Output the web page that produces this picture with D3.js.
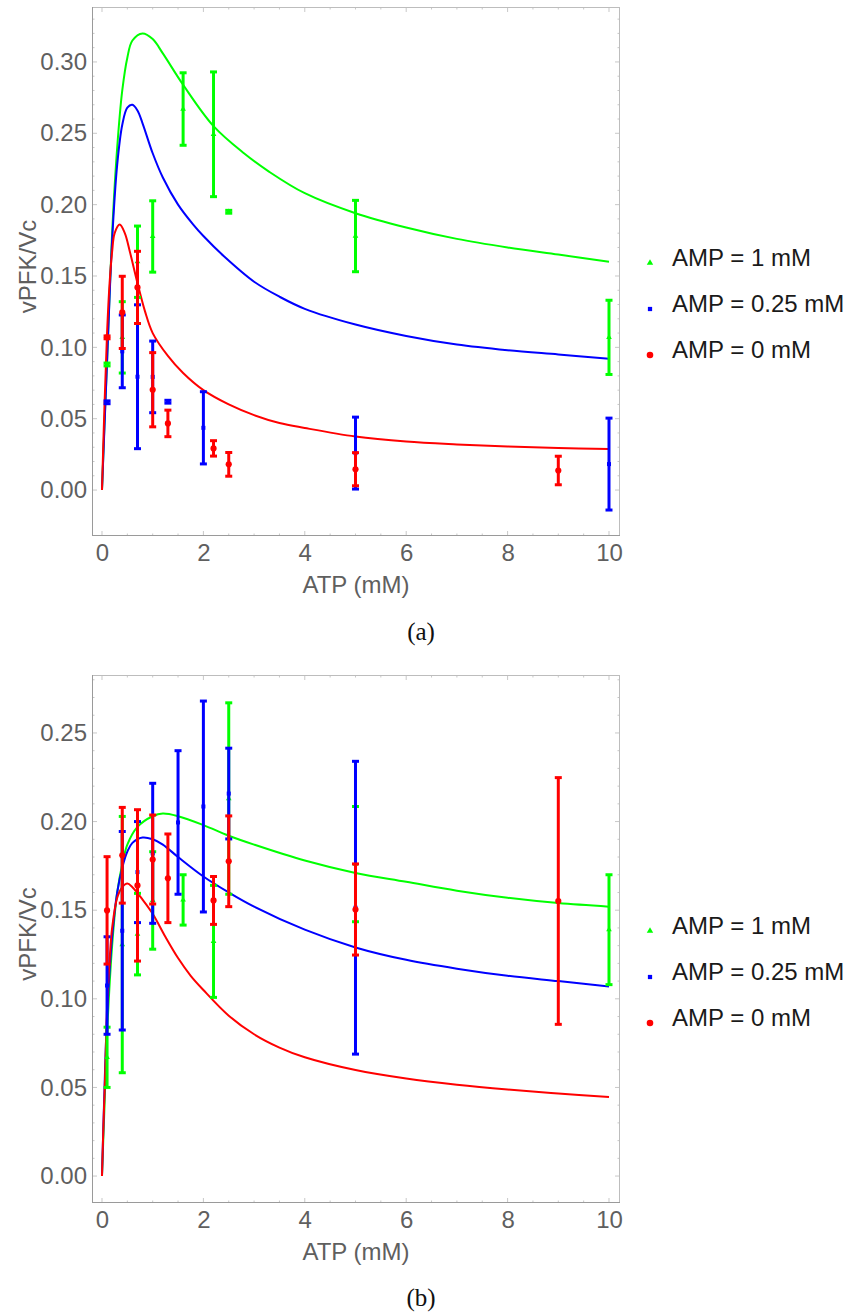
<!DOCTYPE html>
<html>
<head>
<meta charset="utf-8">
<script src="https://cdn.jsdelivr.net/npm/d3@7"></script>
<style>
  html, body { margin: 0; padding: 0; background: #fff; }
  svg { display: block; }
</style>
</head>
<body>
<svg id="fig" width="851" height="1312"></svg>
<script>
// ---- Tick labels ----
const xTickValues = [0, 2, 4, 6, 8, 10];
const yTicksA = [0.00, 0.05, 0.10, 0.15, 0.20, 0.25, 0.30];
const yTicksB = [0.00, 0.05, 0.10, 0.15, 0.20, 0.25];

// ---- Series names ----
const seriesNames = ["AMP = 1 mM", "AMP = 0.25 mM", "AMP = 0 mM"];
const seriesColors = ["#00ff00", "#0000ff", "#ff0000"];

// ---- Panel (a): measurements (ATP mM, mean, error) ----
const aGreenAtp  = [0.1, 0.4, 0.7, 1.0, 1.6, 2.2, 2.5, 5, 10];
const aGreenMean = [0.088, 0.107, 0.160, 0.1777, 0.267, 0.2493, 0.195, 0.178, 0.107];
const aGreenErr  = [0.001, 0.025, 0.025, 0.025, 0.0254, 0.0437, 0.001, 0.025, 0.026];

const aBlueAtp  = [0.1, 0.4, 0.7, 1.0, 1.3, 2.0, 5, 10];
const aBlueMean = [0.0615, 0.0972, 0.0794, 0.0793, 0.0619, 0.0436, 0.0259, 0.0182];
const aBlueErr  = [0.001, 0.0255, 0.0504, 0.0251, 0.001, 0.0253, 0.0252, 0.0322];

const aRedAtp  = [0.1, 0.4, 0.7, 1.0, 1.3, 2.2, 2.5, 5, 9];
const aRedMean = [0.107, 0.1245, 0.142, 0.0703, 0.0467, 0.0292, 0.018, 0.0146, 0.0137];
const aRedErr  = [0.001, 0.0253, 0.0253, 0.026, 0.0093, 0.0054, 0.0083, 0.0116, 0.010];

// ---- Panel (a): fitted rate curves ----
const aGreenCurveX = [0, 0.05, 0.1, 0.2, 0.3, 0.4, 0.5, 0.6, 0.8, 1.0, 1.2, 1.6, 2.2, 2.8, 3.3, 4, 5, 6, 7, 8, 9, 10];
const aGreenCurveY = [0, 0.047, 0.09, 0.18, 0.24, 0.28, 0.303, 0.315, 0.32, 0.316, 0.306, 0.284, 0.255, 0.236, 0.223, 0.208, 0.194, 0.184, 0.176, 0.17, 0.165, 0.16];

const aBlueCurveX = [0, 0.05, 0.1, 0.2, 0.3, 0.4, 0.5, 0.6, 0.7, 0.8, 1.0, 1.2, 1.5, 1.8, 2.0, 2.4, 3.0, 3.5, 4, 5, 6, 7, 8, 9, 10];
const aBlueCurveY = [0, 0.045, 0.09, 0.175, 0.228, 0.256, 0.268, 0.27, 0.266, 0.257, 0.236, 0.219, 0.2, 0.186, 0.178, 0.164, 0.146, 0.1355, 0.127, 0.116, 0.108, 0.102, 0.098, 0.095, 0.092];

const aRedCurveX = [0, 0.05, 0.1, 0.15, 0.2, 0.25, 0.35, 0.45, 0.55, 0.7, 0.85, 1.0, 1.3, 1.6, 2.0, 2.5, 3.0, 3.5, 4, 5, 6, 7, 8, 9, 10];
const aRedCurveY = [0, 0.06, 0.11, 0.145, 0.167, 0.18, 0.186, 0.18, 0.167, 0.145, 0.125, 0.11, 0.094, 0.082, 0.07, 0.06, 0.0525, 0.047, 0.0435, 0.0375, 0.034, 0.032, 0.0305, 0.0295, 0.0287];

// ---- Panel (b): measurements ----
const bGreenAtp  = [0.1, 0.4, 0.7, 1.0, 1.6, 2.2, 2.5, 5, 10];
const bGreenMean = [0.067, 0.1306, 0.1365, 0.1555, 0.1558, 0.1324, 0.213, 0.176, 0.139];
const bGreenErr  = [0.017, 0.0723, 0.023, 0.0275, 0.0142, 0.0316, 0.054, 0.0325, 0.031];

const bBlueAtp  = [0.1, 0.4, 0.7, 1.0, 1.5, 2.0, 2.5, 5];
const bBlueMean = [0.1075, 0.1384, 0.1715, 0.1821, 0.1995, 0.2085, 0.2158, 0.1514];
const bBlueErr  = [0.0275, 0.056, 0.0285, 0.0395, 0.0405, 0.0595, 0.0256, 0.0826];

const bRedAtp  = [0.1, 0.4, 0.7, 1.0, 1.3, 2.2, 2.5, 5, 9];
const bRedMean = [0.1499, 0.181, 0.164, 0.1786, 0.168, 0.1555, 0.1776, 0.1504, 0.1552];
const bRedErr  = [0.0303, 0.027, 0.0427, 0.0251, 0.025, 0.0135, 0.0256, 0.0257, 0.0696];

// ---- Panel (b): fitted rate curves ----
const bGreenCurveX = [0, 0.05, 0.1, 0.2, 0.3, 0.4, 0.5, 0.7, 1.0, 1.2, 1.5, 2.0, 2.5, 3, 4, 5, 6, 7, 8, 9, 10];
const bGreenCurveY = [0, 0.04, 0.08, 0.13, 0.16, 0.176, 0.187, 0.197, 0.203, 0.2045, 0.203, 0.198, 0.192, 0.187, 0.178, 0.171, 0.166, 0.161, 0.157, 0.154, 0.152];

const bBlueCurveX = [0, 0.05, 0.1, 0.2, 0.3, 0.4, 0.5, 0.6, 0.8, 1.0, 1.2, 1.5, 2.0, 2.5, 3.0, 4, 5, 6, 7, 8, 9, 10];
const bBlueCurveY = [0, 0.05, 0.09, 0.135, 0.16, 0.174, 0.183, 0.188, 0.191, 0.19, 0.187, 0.18, 0.169, 0.16, 0.152, 0.139, 0.129, 0.122, 0.117, 0.113, 0.110, 0.107];

const bRedCurveX = [0, 0.03, 0.06, 0.1, 0.15, 0.2, 0.3, 0.4, 0.5, 0.6, 0.8, 1.0, 1.25, 1.5, 1.75, 2.0, 2.5, 3.0, 3.5, 4, 5, 6, 7, 8, 9, 10];
const bRedCurveY = [0, 0.03, 0.055, 0.095, 0.122, 0.14, 0.157, 0.163, 0.165, 0.163, 0.156, 0.148, 0.135, 0.123, 0.113, 0.105, 0.0905, 0.080, 0.0725, 0.067, 0.0598, 0.055, 0.0515, 0.0488, 0.0466, 0.0446];

// ---------------------------------------------------------------
const svg = d3.select("#fig");
const labelFont = "'Liberation Sans', Arial, sans-serif";
const symbolTypes = [d3.symbolTriangle, d3.symbolSquare, d3.symbolCircle];
const symbolSizes = [14, 16, 30];

const zip = (xs, ys) => xs.map((x, i) => [x, ys[i]]);
const pts = (xs, ms, es) => xs.map((x, i) => ({ x, m: ms[i], e: es[i] }));

const panels = [
  {
    top: 7, bottom: 536, left: 92, right: 620,
    yDomain: [-0.0322, 0.3385], yTicks: yTicksA, yMinorStep: 0.01,
    caption: "(a)", captionY: 640,
    curves: [zip(aGreenCurveX, aGreenCurveY), zip(aBlueCurveX, aBlueCurveY), zip(aRedCurveX, aRedCurveY)],
    data: [pts(aGreenAtp, aGreenMean, aGreenErr), pts(aBlueAtp, aBlueMean, aBlueErr), pts(aRedAtp, aRedMean, aRedErr)]
  },
  {
    top: 675, bottom: 1203, left: 92, right: 620,
    yDomain: [-0.0152, 0.2827], yTicks: yTicksB, yMinorStep: 0.01,
    caption: "(b)", captionY: 1306,
    curves: [zip(bGreenCurveX, bGreenCurveY), zip(bBlueCurveX, bBlueCurveY), zip(bRedCurveX, bRedCurveY)],
    data: [pts(bGreenAtp, bGreenMean, bGreenErr), pts(bBlueAtp, bBlueMean, bBlueErr), pts(bRedAtp, bRedMean, bRedErr)]
  }
];

panels.forEach(p => {
  const g = svg.append("g");
  const x = d3.scaleLinear().domain([-0.197, 10.217]).range([p.left, p.right]);
  const y = d3.scaleLinear().domain(p.yDomain).range([p.bottom, p.top]);

  // frame ticks (inward, on all four sides)
  const xMinor = d3.range(0, 10.01, 0.5);
  const yMinor = d3.range(0, p.yDomain[1], p.yMinorStep);
  const tickG = g.append("g").attr("stroke", "#c8c8c8").attr("stroke-width", 1);
  xMinor.forEach(v => {
    const len = (Math.abs(v % 2) < 1e-9) ? 5 : 2.5;
    tickG.append("line").attr("x1", x(v)).attr("x2", x(v)).attr("y1", p.bottom).attr("y2", p.bottom - len);
    tickG.append("line").attr("x1", x(v)).attr("x2", x(v)).attr("y1", p.top).attr("y2", p.top + len);
  });
  yMinor.forEach(v => {
    const isMajor = Math.abs(Math.round(v / 0.05) * 0.05 - v) < 1e-9;
    const len = isMajor ? 5 : 2.5;
    tickG.append("line").attr("x1", p.left).attr("x2", p.left + len).attr("y1", y(v)).attr("y2", y(v));
    tickG.append("line").attr("x1", p.right).attr("x2", p.right - len).attr("y1", y(v)).attr("y2", y(v));
  });

  // frame
  g.append("rect").attr("x", p.left + 0.5).attr("y", p.top + 0.5)
    .attr("width", p.right - p.left - 1).attr("height", p.bottom - p.top - 1)
    .attr("fill", "none").attr("stroke", "#bdbdbd").attr("stroke-width", 1);
  g.append("line").attr("x1", p.left + 0.5).attr("x2", p.left + 0.5).attr("y1", p.top).attr("y2", p.bottom)
    .attr("stroke", "#9a9a9a").attr("stroke-width", 1);
  g.append("line").attr("x1", p.left).attr("x2", p.right).attr("y1", p.bottom - 0.5).attr("y2", p.bottom - 0.5)
    .attr("stroke", "#9a9a9a").attr("stroke-width", 1);

  // tick labels
  const yAxis = d3.axisLeft(y).tickValues(p.yTicks).tickFormat(d3.format(".2f")).tickSize(0).tickPadding(5);
  const ya = g.append("g").attr("transform", `translate(${p.left},0)`).call(yAxis);
  ya.select(".domain").remove();
  ya.selectAll("text").attr("font-family", labelFont).attr("font-size", 24).attr("fill", "#5f5f5f");

  const xAxis = d3.axisBottom(x).tickValues(xTickValues).tickFormat(d3.format("d")).tickSize(0).tickPadding(8);
  const xa = g.append("g").attr("transform", `translate(0,${p.bottom})`).call(xAxis);
  xa.select(".domain").remove();
  xa.selectAll("text").attr("font-family", labelFont).attr("font-size", 24).attr("fill", "#5f5f5f");

  // axis titles
  g.append("text").attr("x", (p.left + p.right) / 2).attr("y", p.bottom + 57)
    .attr("text-anchor", "middle").attr("font-family", labelFont).attr("font-size", 24)
    .attr("fill", "#5f5f5f").text("ATP (mM)");
  const cy = (p.top + p.bottom) / 2 - 5;
  g.append("text").attr("transform", `translate(36,${cy}) rotate(-90)`)
    .attr("text-anchor", "middle").attr("font-family", labelFont).attr("font-size", 24)
    .attr("fill", "#5f5f5f").text("vPFK/Vc");

  // caption
  g.append("text").attr("x", 421).attr("y", p.captionY).attr("text-anchor", "middle")
    .attr("font-family", "'Liberation Serif', 'DejaVu Serif', serif")
    .attr("font-size", 25).attr("fill", "#111").text(p.caption);

  // plot area clip
  const clipId = "clip" + p.caption.replace(/\W/g, "");
  svg.append("clipPath").attr("id", clipId).append("rect")
    .attr("x", p.left + 1).attr("y", p.top + 1)
    .attr("width", p.right - p.left - 2).attr("height", p.bottom - p.top - 2);
  const plot = g.append("g").attr("clip-path", `url(#${clipId})`);

  // fitted curves
  const line = d3.line().x(d => x(d[0])).y(d => y(d[1])).curve(d3.curveCatmullRom.alpha(0.5));
  p.curves.forEach((c, i) => {
    plot.append("path").datum(c).attr("d", line).attr("fill", "none")
      .attr("stroke", seriesColors[i]).attr("stroke-width", 2);
  });

  // error bars and means
  p.data.forEach((series, i) => {
    const sg = plot.append("g").attr("stroke", seriesColors[i]).attr("fill", seriesColors[i]);
    series.forEach(d => {
      const xp = x(d.x), y1 = y(d.m + d.e), y2 = y(d.m - d.e);
      sg.append("line").attr("x1", xp).attr("x2", xp).attr("y1", y1).attr("y2", y2).attr("stroke-width", 3);
      [y1, y2].forEach(yy => sg.append("line").attr("x1", xp - 3.5).attr("x2", xp + 3.5)
        .attr("y1", yy).attr("y2", yy).attr("stroke-width", 3));
      sg.append("path").attr("d", d3.symbol().type(symbolTypes[i]).size(symbolSizes[i])())
        .attr("transform", `translate(${xp},${y(d.m)})`).attr("stroke", "none");
    });
  });

  // legend
  const lg = g.append("g");
  const rowY = [p.top + 259, p.top + 305, p.top + 351];
  seriesNames.forEach((name, i) => {
    lg.append("path").attr("d", d3.symbol().type(symbolTypes[i]).size([18, 18, 34][i])())
      .attr("transform", `translate(650,${rowY[i] - 3})`).attr("fill", seriesColors[i]);
    lg.append("text").attr("x", 672).attr("y", rowY[i]).attr("font-family", labelFont)
      .attr("font-size", 24).attr("fill", "#1a1a1a").text(name);
  });
});
</script>
</body>
</html>
